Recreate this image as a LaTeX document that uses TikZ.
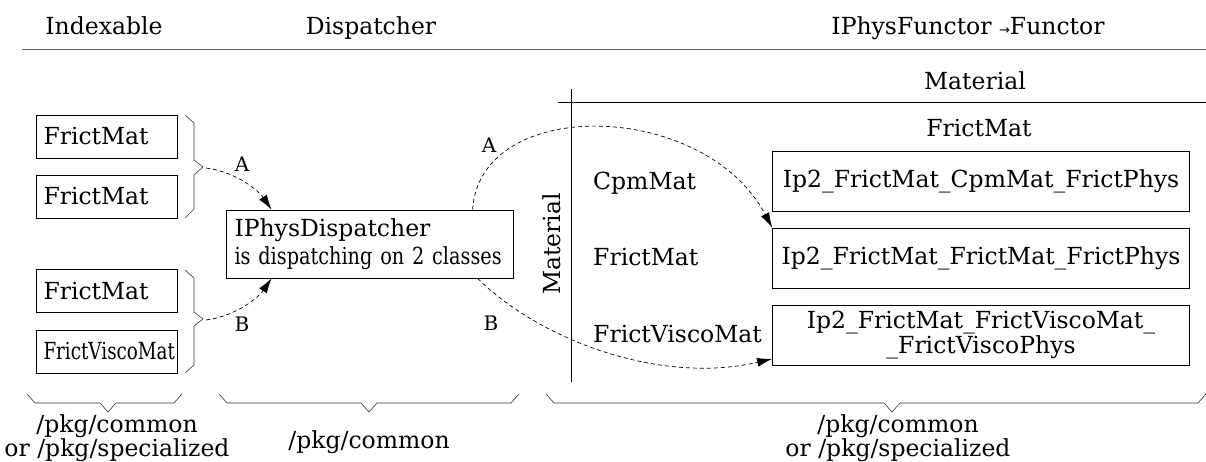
\documentclass[tikz,border=0pt]{standalone}
\usepackage{fontspec}
\setmainfont{DejaVu Serif}
\newfontfamily\narrowfont[FakeStretch=0.78]{DejaVu Serif}
\newfontfamily\semifont[FakeStretch=0.82]{DejaVu Serif}
\newfontfamily\arrowfont{DejaVu Sans}
\usetikzlibrary{arrows.meta}

\begin{document}
\begin{tikzpicture}[x=1pt, y=-1pt, font=\fontsize{23.5}{23}\selectfont,
  every node/.style={inner sep=0pt},
  matbox/.style={draw, line width=0.8pt, minimum height=43pt, text width=126pt, align=left, inner xsep=7.5pt},
  ipbox/.style={draw, line width=0.8pt, minimum width=417pt, minimum height=60pt, align=center},
  dispbox/.style={draw, line width=0.8pt, minimum height=68pt, text width=278pt, align=left, inner xsep=4.5pt,
    font=\fontsize{23.5}{28}\selectfont},
  call/.style={dashed, dash pattern=on 4pt off 3pt, line width=0.7pt, -{Latex[length=15pt,width=9pt]}},
  lbl/.style={font=\fontsize{20}{20}\selectfont},
  brace/.style={line width=0.6pt, black!80}]
  \useasboundingbox (0,0) rectangle (1206,462);

  % headers
  \node (hidx) [anchor=base] at (104,35) {Indexable};
  \node (hdisp) [anchor=base] at (371,35) {Dispatcher};
  \node (hfun) [anchor=base] at (968,35) {IPhysFunctor {\arrowfont\fontsize{13}{13}\selectfont →}Functor};
  \draw [black!60, line width=1pt] (22,50) -- (1206,50);

  % indexable classes
  \node (m1) [matbox] at (106.5,136.5) {FrictMat};
  \node (m2) [matbox] at (106.5,196.5) {FrictMat};
  \node (m3) [matbox] at (106.5,291) {FrictMat};
  \node (m4) [matbox] at (106.5,351.5) {\narrowfont FrictViscoMat};
  \draw [brace] (185,115) -- (194,123) -- (194,160) -- (203,167) -- (194,175) -- (194,209) -- (185,218);
  \draw [brace] (185,270) -- (194,278) -- (194,312) -- (203,319) -- (194,326) -- (194,365) -- (185,373);
  \coordinate (tipA) at (206,168);
  \coordinate (tipB) at (206,320);

  % dispatcher
  \node (disp) [dispbox] at (369.5,244) {\hspace*{4pt}IPhysDispatcher\\\hspace*{4pt}{\semifont is dispatching on 2 classes}};
  \draw [call] (tipA) .. controls (236,172) and (258,190) .. ([xshift=46pt]disp.north west);
  \draw [call] (tipB) .. controls (236,316) and (258,298) .. ([xshift=46pt]disp.south west);
  \node (la) [lbl] at (242,164) {A};
  \node (lb) [lbl] at (242,324) {B};

  % functor table
  \node (hmat) [anchor=base] at (975,90) {Material};
  \draw [line width=0.8pt] (558,102) -- (1206,102);
  \draw [line width=0.8pt] (571,89) -- (571,382);
  \node (vmat) [rotate=90] at (552,244) {Material};
  \node (cmat) [anchor=base] at (979,137) {FrictMat};
  \node (rcpm) [anchor=base west] at (593,190) {CpmMat};
  \node (rfri) [anchor=base west] at (593,265) {FrictMat};
  \node (rvis) [anchor=base west] at (593,342) {FrictViscoMat};
  \node (r1) [ipbox] at (981,181) {Ip2\_FrictMat\_CpmMat\_FrictPhys};
  \node (r2) [ipbox] at (981,258) {Ip2\_FrictMat\_FrictMat\_FrictPhys};
  \node (r3) [ipbox, font=\fontsize{23.5}{25}\selectfont] at (981,335.5) {Ip2\_FrictMat\_FrictViscoMat\_\\\_FrictViscoPhys};
  \draw [call] ([xshift=247pt]disp.north west) .. controls (480,95) and (705,100) .. (r2.north west);
  \draw [call] ([xshift=252pt]disp.south west) .. controls (540,340) and (660,385) .. ([yshift=7pt]r3.south west);
  \node (ra) [lbl] at (489,145) {A};
  \node (rb) [lbl] at (491,323) {B};

  % packages
  \draw [brace] (27,394) -- (35,403) -- (100,403) -- (108,412) -- (116,403) -- (174,403) -- (182,394);
  \draw [brace] (219,394) -- (227,403) -- (361,403) -- (369,412) -- (377,403) -- (511,403) -- (519,394);
  \draw [brace] (546,394) -- (554,403) -- (884,403) -- (892,412) -- (900,403) -- (1198,403) -- (1206,394);
  \node (pidx) [align=center] at (117,438) {/pkg/common\\or /pkg/specialized};
  \node (pdisp) [anchor=base] at (369,448) {/pkg/common};
  \node (pfun) [align=center] at (898,438) {/pkg/common\\or /pkg/specialized};
\end{tikzpicture}
\end{document}
